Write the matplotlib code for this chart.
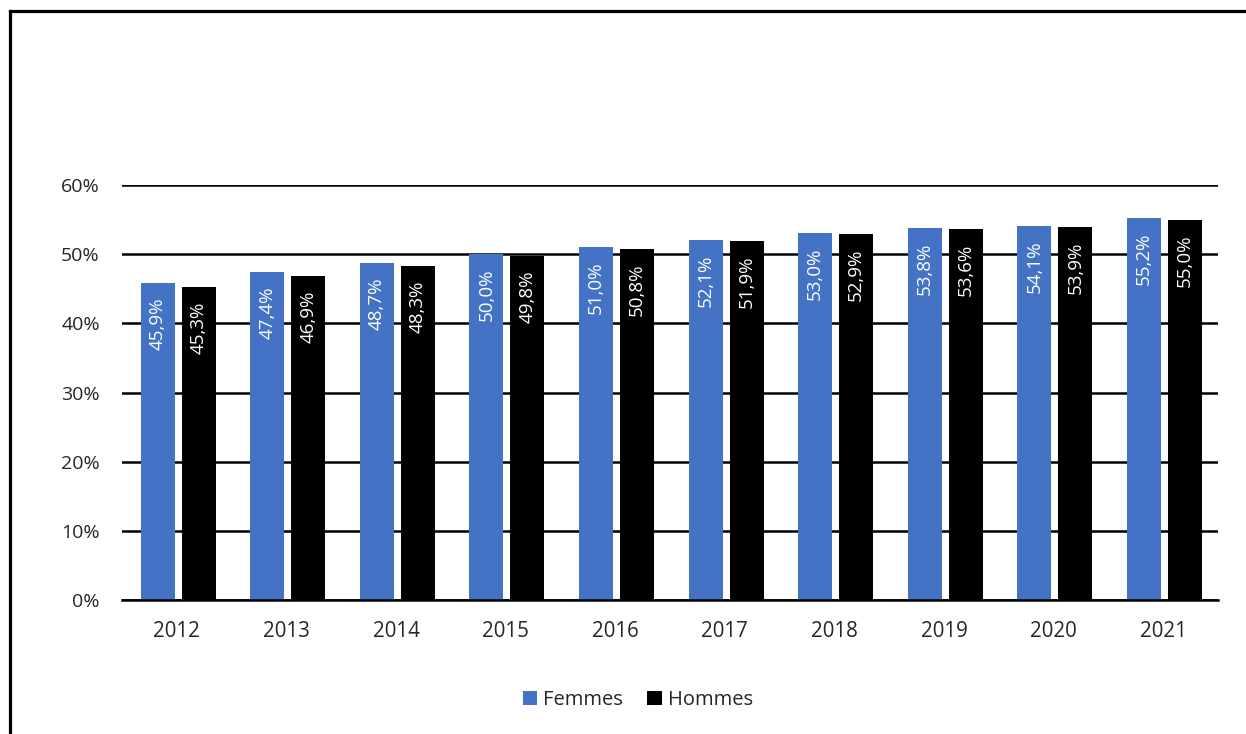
import matplotlib
matplotlib.use("Agg")
import matplotlib.pyplot as plt
from matplotlib.lines import Line2D
import numpy as np

years = ["2012", "2013", "2014", "2015", "2016", "2017", "2018", "2019", "2020", "2021"]
femmes = [45.9, 47.4, 48.7, 50.0, 51.0, 52.1, 53.0, 53.8, 54.1, 55.2]
hommes = [45.3, 46.9, 48.3, 49.8, 50.8, 51.9, 52.9, 53.6, 53.9, 55.0]
yticks = [0, 10, 20, 30, 40, 50, 60]

plt.rcParams['font.family'] = ['Open Sans', 'DejaVu Sans']

W, H = 1246, 734
fig = plt.figure(figsize=(W / 100, H / 100), dpi=100)
ax = fig.add_axes([122 / W, 1 - 600 / H, (1218 - 122) / W, (600 - 185) / H])

x = np.arange(len(years))
bw = 0.31
off = 0.187
BLUE = '#4472C4'
b1 = ax.bar(x - off + 0.012, femmes, bw, color=BLUE, label='Femmes', zorder=3)
b2 = ax.bar(x + off + 0.012, hommes, bw, color='#000000', label='Hommes', zorder=3)

def fmt(v):
    return f"{v:.1f}%".replace('.', ',')

for bars, vals in ((b1, femmes), (b2, hommes)):
    for r, v in zip(bars, vals):
        ax.annotate(fmt(v), (r.get_x() + r.get_width() / 2, v), xytext=(0, -10.5),
                    textcoords='offset points', rotation=90, ha='center', va='top',
                    color='white', fontsize=13.5, zorder=4)

ax.set_xlim(-0.5, len(years) - 0.5)
ax.set_ylim(0, 60)
ax.set_yticks(yticks)
ax.set_yticklabels([f"{t}%" for t in yticks])
ax.set_xticks(x)
ax.set_xticklabels(years)
ax.yaxis.grid(True, color='black', linewidth=1.8, zorder=1)
ax.set_axisbelow(True)
for s in ['top', 'right', 'left']:
    ax.spines[s].set_visible(False)
ax.spines['bottom'].set_color('black')
ax.spines['bottom'].set_linewidth(1.8)
ax.spines['bottom'].set_zorder(5)
ax.tick_params(axis='y', length=0, pad=16, labelsize=14, labelcolor='#262626')
ax.tick_params(axis='x', length=0, pad=15, labelsize=14.8, labelcolor='#262626')

fig.legend(handles=[b1, b2], labels=['Femmes', 'Hommes'], loc='center',
           bbox_to_anchor=(638 / W, 1 - 700 / H), ncol=2, frameon=False,
           fontsize=14.5, handlelength=0.7, handleheight=0.7, handletextpad=0.3,
           columnspacing=1.2, labelcolor='#262626')

fig.add_artist(Line2D([10 / W, 1.0], [1 - 11 / H, 1 - 11 / H], color='black', lw=2.3,
                      transform=fig.transFigure))
fig.add_artist(Line2D([10 / W, 10 / W], [1 - 11 / H, 0], color='black', lw=2.3,
                      transform=fig.transFigure))

fig.savefig('out.png', dpi=100, facecolor='white')
